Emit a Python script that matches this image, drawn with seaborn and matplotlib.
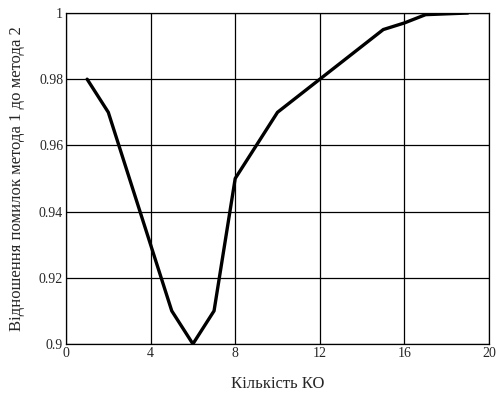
import pandas as pd
import seaborn as sns
import matplotlib.pyplot as plt

# кількість КО та відношення помилок
ko_count = [1, 2, 3, 4, 5, 6, 7, 8, 10, 12, 15, 16, 17, 19]
error_ratio = [0.98, 0.97, 0.95, 0.93, 0.91, 0.90, 0.91, 0.95, 0.97, 0.98, 0.995, 0.997, 0.9995, 1.0]
x_ticks = [0, 4, 8, 12, 16, 20]
y_ticks = [0.9, 0.92, 0.94, 0.96, 0.98, 1.0]
y_labels = ["0.9", "0.92", "0.94", "0.96", "0.98", "1"]

df = pd.DataFrame({"ko": ko_count, "ratio": error_ratio})

sns.set_style("white")
plt.rcParams["font.family"] = ["Liberation Serif", "DejaVu Serif"]

fig = plt.figure(figsize=(4.98, 3.94), dpi=100)
ax = fig.add_axes([0.1325, 0.127, 0.8495, 0.84])

sns.lineplot(data=df, x="ko", y="ratio", color="black", linewidth=2.4, ax=ax)

ax.set_xlim(0, 20)
ax.set_ylim(0.9, 1.0)
ax.set_xticks(x_ticks)
ax.set_xticklabels([str(t) for t in x_ticks], fontsize=10)
ax.set_yticks(y_ticks)
ax.set_yticklabels(y_labels, fontsize=10)
ax.tick_params(length=0, pad=2)
ax.grid(True, color="black", linewidth=0.9)
for s in ax.spines.values():
    s.set_color("black")
    s.set_linewidth(0.9)

ax.set_xlabel("Кількість КО", fontsize=12, labelpad=12)
ax.set_ylabel("Відношення помилок метода 1 до метода 2", fontsize=12, labelpad=10)

fig.savefig("out.png", dpi=100)
